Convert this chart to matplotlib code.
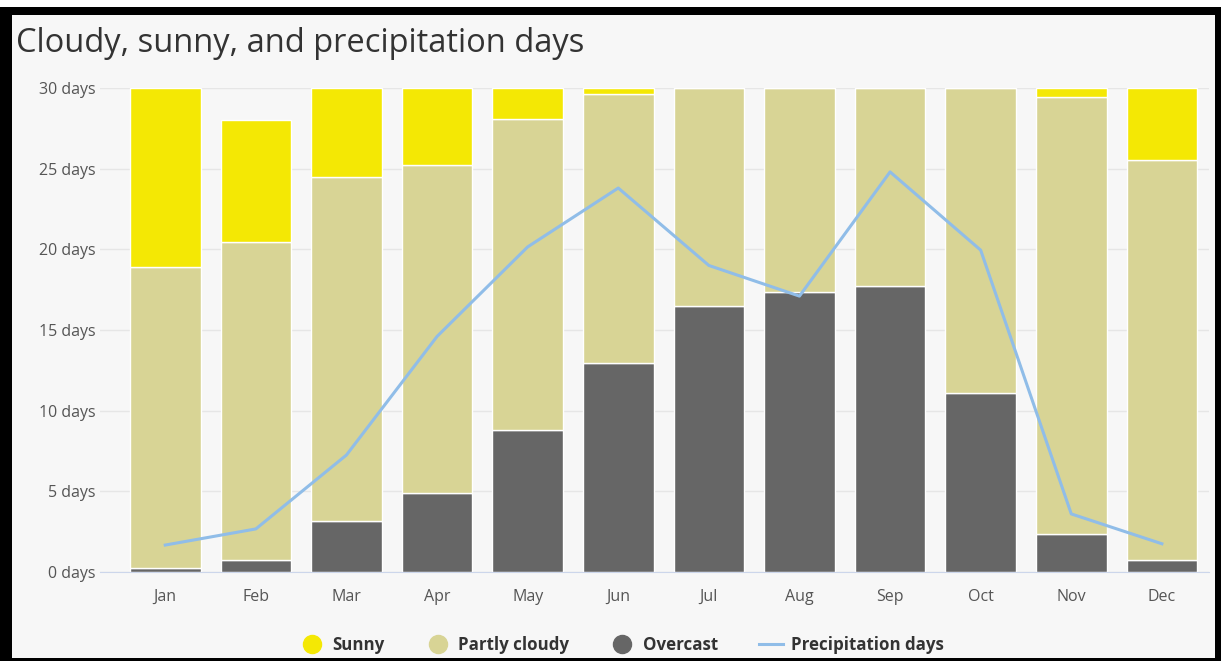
import matplotlib.pyplot as plt
from matplotlib.patches import Rectangle
from matplotlib.lines import Line2D
import numpy as np

months = ['Jan', 'Feb', 'Mar', 'Apr', 'May', 'Jun', 'Jul', 'Aug', 'Sep', 'Oct', 'Nov', 'Dec']
overcast = [0.25, 0.75, 3.15, 4.9, 8.8, 12.95, 16.5, 17.35, 17.7, 11.1, 2.35, 0.75]
partly = [18.65, 19.7, 21.35, 20.3, 19.3, 16.65, 13.5, 12.65, 12.3, 18.9, 27.1, 24.8]
sunny = [11.1, 7.55, 5.5, 4.8, 1.9, 0.4, 0.0, 0.0, 0.0, 0.0, 0.55, 4.45]
precip = [1.67, 2.67, 7.25, 14.6, 20.15, 23.8, 19.0, 17.1, 24.8, 19.95, 3.6, 1.75]
yticks = [0, 5, 10, 15, 20, 25, 30]

c_sunny = '#f4e804'
c_partly = '#d8d495'
c_over = '#666666'
c_line = '#90bde8'
bg = '#f7f7f7'

plt.rcParams['font.family'] = ['Open Sans', 'DejaVu Sans']

W, H = 1221, 661
fig = plt.figure(figsize=(W / 100, H / 100), dpi=100)
fig.patch.set_facecolor('white')

# black frame and light background
fig.patches.append(Rectangle((0, 0), W, H - 7, transform=None, facecolor='black',
                             edgecolor='none', zorder=-3))
fig.patches.append(Rectangle((12, 3), 1215 - 12, H - 15 - 3, transform=None,
                             facecolor=bg, edgecolor='none', zorder=-2))

ax = fig.add_axes([100 / W, 89 / H, (1209 - 100) / W, (572 - 88) / H])
ax.set_facecolor(bg)

x = np.arange(len(months))
bot2 = np.array(overcast) + np.array(partly)
kw = dict(width=0.78, edgecolor='white', linewidth=1, zorder=2)
ax.bar(x, overcast, color=c_over, **kw)
ax.bar(x, partly, bottom=overcast, color=c_partly, **kw)
ax.bar(x, sunny, bottom=bot2, color=c_sunny, **kw)
ax.plot(x, precip, color=c_line, linewidth=2.2, zorder=3)

ax.set_xlim(-0.72, 11.52)
ax.set_ylim(0, 30)
ax.set_yticks(yticks)
ax.set_yticklabels([f'{v} days' for v in yticks])
ax.set_xticks(x)
ax.set_xticklabels(months)
ax.grid(axis='y', color='#e6e6e6', linewidth=1, zorder=0)
ax.set_axisbelow(True)
for s in ['top', 'right', 'left']:
    ax.spines[s].set_visible(False)
ax.spines['bottom'].set_color('#ccd6eb')
ax.spines['bottom'].set_zorder(4)
ax.tick_params(axis='both', length=0, colors='#555555', labelsize=11.5)
ax.tick_params(axis='x', pad=12)
ax.tick_params(axis='y', pad=3)

fig.text(16 / W, 1 - 43 / H, 'Cloudy, sunny, and precipitation days', fontsize=23.5,
         color='#333333', va='center', ha='left')

handles = [
    Line2D([], [], marker='o', linestyle='none', markersize=13, color=c_sunny, label='Sunny'),
    Line2D([], [], marker='o', linestyle='none', markersize=13, color=c_partly, label='Partly cloudy'),
    Line2D([], [], marker='o', linestyle='none', markersize=13, color=c_over, label='Overcast'),
    Line2D([], [], color=c_line, linewidth=2.2, label='Precipitation days'),
]
leg = fig.legend(handles=handles, loc='center', bbox_to_anchor=(622 / W, 1 - 645 / H),
                 ncol=4, frameon=False, handlelength=1.4, handletextpad=0.5,
                 columnspacing=2.45, prop={'weight': 'bold', 'size': 12.2})
for t in leg.get_texts():
    t.set_color('#333333')

fig.savefig('out.png', dpi=100, facecolor=fig.get_facecolor())
